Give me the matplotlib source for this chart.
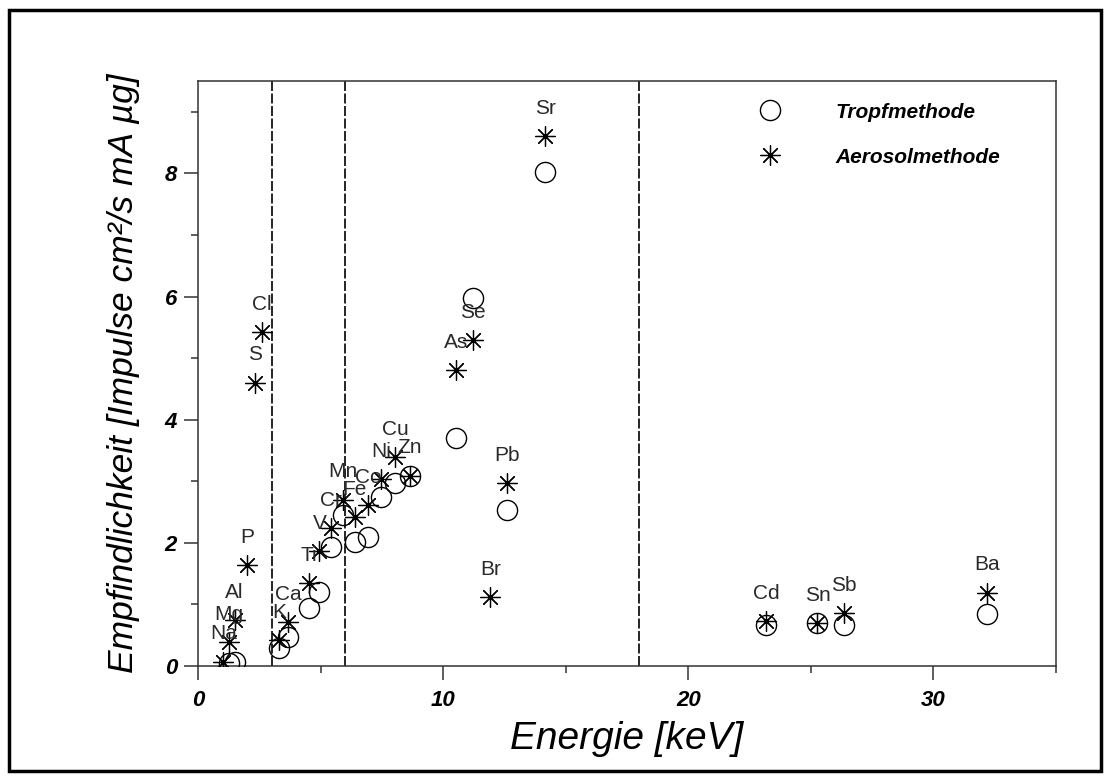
import numpy as np
import matplotlib
matplotlib.use("Agg")
import matplotlib.pyplot as plt
from matplotlib.patches import Rectangle

plt.rcParams["font.family"] = ["Liberation Sans", "DejaVu Sans"]

# Elements, their line energies and measured sensitivities
elements = ["Na", "Mg", "Al", "P", "S", "Cl", "K", "Ca", "Ti", "V", "Cr", "Mn",
            "Fe", "Co", "Ni", "Cu", "Zn", "As", "Se", "Br", "Sr", "Pb", "Cd",
            "Sn", "Sb", "Ba"]
energy_kev = [1.04, 1.25, 1.49, 2.01, 2.31, 2.62, 3.31, 3.69, 4.51, 4.95, 5.41,
              5.90, 6.40, 6.93, 7.48, 8.05, 8.64, 10.54, 11.22, 11.92, 14.16,
              12.61, 23.17, 25.27, 26.36, 32.19]
aerosol = [0.07, 0.39, 0.75, 1.64, 4.60, 5.42, 0.42, 0.71, 1.35, 1.87, 2.24,
           2.70, 2.42, 2.61, 3.04, 3.39, 3.09, 4.81, 5.29, 1.12, 8.61, 2.97,
           0.73, 0.70, 0.86, 1.19]
nan = np.nan
tropf = [nan, 0.05, 0.07, nan, nan, nan, 0.29, 0.47, 0.94, 1.20, 1.93, 2.45,
         2.01, 2.09, 2.74, 2.97, 3.09, 3.70, 5.98, nan, 8.02, 2.53, 0.67, 0.70,
         0.67, 0.84]
region_bounds = [3, 6, 18]

W, H = 1117, 782
fig = plt.figure(figsize=(W / 100, H / 100), dpi=100)
ax = fig.add_axes([198 / W, 1 - 666 / H, 858 / W, 585 / H])
ax.set_xlim(0, 35)
ax.set_ylim(0, 9.5)

for xb in region_bounds:
    ax.axvline(xb, color="black", lw=1.2, ls=(0, (6, 1.5)), zorder=1)

asterisk = (8, 2, 0)
ax.plot(energy_kev, tropf, ls="none", marker="o", ms=14.5, mfc="none",
        mec="black", mew=1.0, label="Tropfmethode", zorder=3)
ax.plot(energy_kev, aerosol, ls="none", marker=asterisk, ms=14.5, mec="black",
        mew=0.9, label="Aerosolmethode", zorder=4)

for el, xe, ya in zip(elements, energy_kev, aerosol):
    ax.annotate(el, (xe, ya), xytext=(0, 20), textcoords="offset points",
                ha="center", va="center", fontsize=15, color="#2a2a2a",
                zorder=5)

# axes frame and ticks
for sp in ax.spines.values():
    sp.set_linewidth(1.1)
    sp.set_color("#333333")
ax.set_xticks([0, 10, 20, 30])
ax.set_xticks([5, 15, 25, 35], minor=True)
ax.set_yticks([0, 2, 4, 6, 8])
ax.set_yticks([1, 3, 5, 7, 9], minor=True)
ax.tick_params(which="major", direction="out", length=10, width=1.1,
               color="#333333", labelsize=16)
ax.tick_params(which="minor", direction="out", length=5, width=1.1,
               color="#333333")
ax.tick_params(axis="x", pad=7)
ax.tick_params(axis="y", pad=5)
for lab in ax.get_xticklabels() + ax.get_yticklabels():
    lab.set_fontweight("bold")
    lab.set_fontstyle("italic")

ax.set_xlabel("Energie [keV]", fontsize=28, fontstyle="italic")
ax.xaxis.set_label_coords(0.5, -0.094)
ax.set_ylabel("Empfindlichkeit [Impulse cm²/s mA µg]", fontsize=25.5,
              fontstyle="italic", va="center")
ax.yaxis.set_label_coords(-0.087, 0.5)

leg = ax.legend(loc="upper left", bbox_to_anchor=(0.6424, 0.963),
                frameon=False, borderpad=0, borderaxespad=0, numpoints=1,
                handlelength=2.0, handletextpad=2.125, labelspacing=1.25,
                prop={"size": 15, "weight": "bold", "style": "italic"})

# outer frame around the whole figure
fig.add_artist(Rectangle((9 / W, 1 - 771 / H), (1101 - 9) / W, (771 - 10) / H,
                         transform=fig.transFigure, fill=False, lw=2.5,
                         ec="black"))

fig.savefig("out.png", dpi=100)
